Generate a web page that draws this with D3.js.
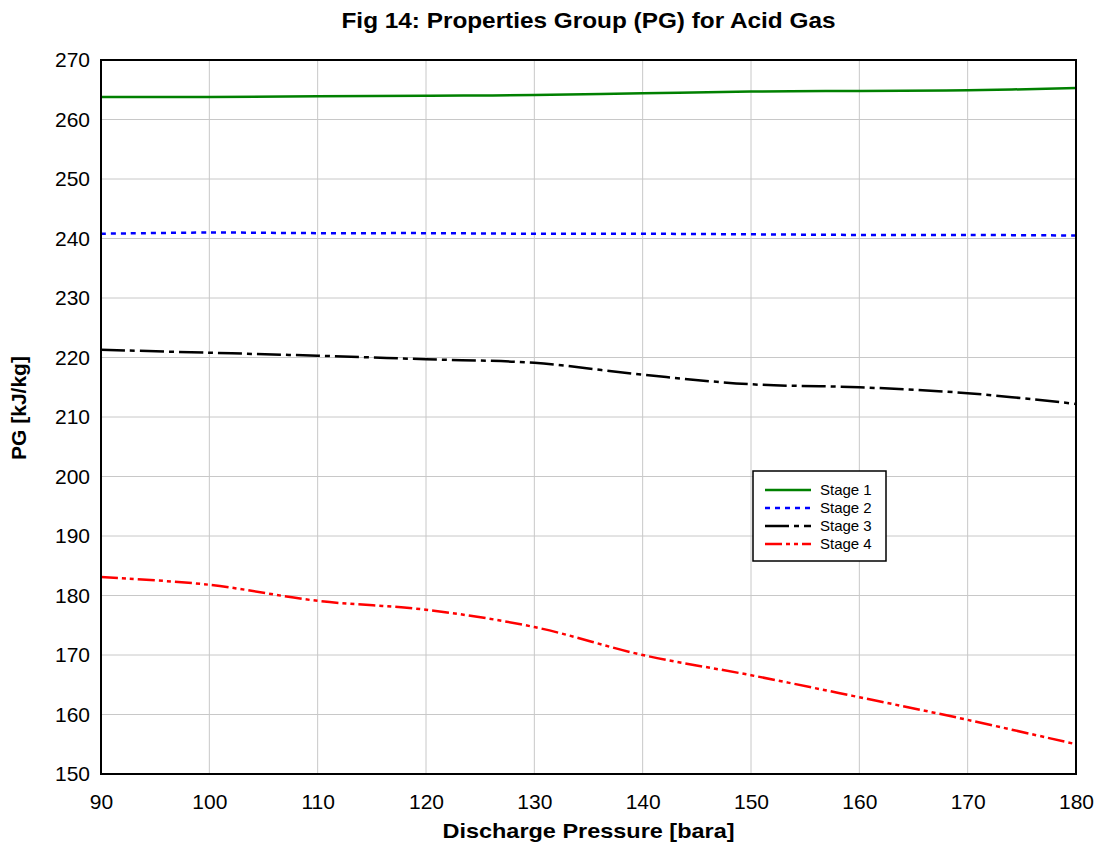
<!DOCTYPE html>
<html>
<head>
<meta charset="utf-8">
<script src="https://cdn.jsdelivr.net/npm/d3@7"></script>
<style>
  body { margin: 0; background: #fff; }
  text { font-family: "Liberation Sans", Arial, sans-serif; }
</style>
</head>
<body>
<div id="chart"></div>
<script>
// Chart data
const pressures = [90, 100, 110, 120, 130, 140, 150, 160, 170, 180]
const stage1 = [263.8, 263.8, 263.9, 264.0, 264.1, 264.4, 264.7, 264.8, 264.9, 265.3]
const stage2 = [240.8, 241.0, 240.9, 240.9, 240.8, 240.8, 240.7, 240.6, 240.6, 240.5]
const stage3 = [221.3, 220.8, 220.3, 219.7, 219.1, 217.1, 215.5, 215.0, 214.0, 212.2]
const stage4 = [183.1, 181.8, 179.1, 177.6, 174.7, 170.0, 166.6, 162.9, 159.1, 155.0]
const seriesNames = ['Stage 1', 'Stage 2', 'Stage 3', 'Stage 4']
const xTicks = [90, 100, 110, 120, 130, 140, 150, 160, 170, 180]
const yTicks = [150, 160, 170, 180, 190, 200, 210, 220, 230, 240, 250, 260, 270]

const width = 1103
const height = 846
const margin = { top: 60, right: 27, bottom: 72, left: 101 }

const series = [
  { name: seriesNames[0], values: stage1, color: '#008000', dash: null },
  { name: seriesNames[1], values: stage2, color: '#0000ff', dash: '5,5' },
  { name: seriesNames[2], values: stage3, color: '#000000', dash: '24,5,5,5' },
  { name: seriesNames[3], values: stage4, color: '#ff0000', dash: '17,4,4,4,4,4' }
]

const svg = d3.select('#chart').append('svg')
  .attr('width', width)
  .attr('height', height)

const x = d3.scaleLinear().domain([90, 180]).range([margin.left, width - margin.right])
const y = d3.scaleLinear().domain([150, 270]).range([height - margin.bottom, margin.top])

// gridlines
svg.append('g')
  .selectAll('line')
  .data(xTicks)
  .join('line')
  .attr('x1', d => x(d)).attr('x2', d => x(d))
  .attr('y1', y(150)).attr('y2', y(270))
  .attr('stroke', '#c8c8c8').attr('stroke-width', 1)

svg.append('g')
  .selectAll('line')
  .data(yTicks)
  .join('line')
  .attr('x1', x(90)).attr('x2', x(180))
  .attr('y1', d => y(d)).attr('y2', d => y(d))
  .attr('stroke', '#c8c8c8').attr('stroke-width', 1)

// axes (tick labels only)
const xAxis = svg.append('g')
  .attr('transform', `translate(0,${y(150)})`)
  .call(d3.axisBottom(x).tickValues(xTicks).tickSize(0).tickPadding(20))
xAxis.select('.domain').remove()
xAxis.selectAll('text').attr('font-size', 21).attr('fill', '#000')
  .style('font-family', '"Liberation Sans", Arial, sans-serif')

const yAxis = svg.append('g')
  .attr('transform', `translate(${x(90)},0)`)
  .call(d3.axisLeft(y).tickValues(yTicks).tickSize(0).tickPadding(11))
yAxis.select('.domain').remove()
yAxis.selectAll('text').attr('font-size', 21).attr('fill', '#000')
  .style('font-family', '"Liberation Sans", Arial, sans-serif')

// lines
const line = d3.line()
  .x((d, i) => x(pressures[i]))
  .y(d => y(d))
  .curve(d3.curveCatmullRom.alpha(0.5))

svg.append('g')
  .selectAll('path')
  .data(series)
  .join('path')
  .attr('d', d => line(d.values))
  .attr('fill', 'none')
  .attr('stroke', d => d.color)
  .attr('stroke-width', 2.5)
  .attr('stroke-dasharray', d => d.dash)

// plot frame
svg.append('rect')
  .attr('x', x(90)).attr('y', y(270))
  .attr('width', x(180) - x(90)).attr('height', y(150) - y(270))
  .attr('fill', 'none').attr('stroke', '#000').attr('stroke-width', 2)

// title and axis labels
const midX = (x(90) + x(180)) / 2
svg.append('text')
  .attr('x', midX).attr('y', 28)
  .attr('text-anchor', 'middle')
  .attr('font-size', 22).attr('font-weight', 'bold')
  .attr('textLength', 494).attr('lengthAdjust', 'spacingAndGlyphs')
  .text('Fig 14: Properties Group (PG) for Acid Gas')

svg.append('text')
  .attr('x', midX).attr('y', 838)
  .attr('text-anchor', 'middle')
  .attr('font-size', 21).attr('font-weight', 'bold')
  .attr('textLength', 292).attr('lengthAdjust', 'spacingAndGlyphs')
  .text('Discharge Pressure [bara]')

svg.append('text')
  .attr('transform', `translate(26,${(y(150) + y(270)) / 2 - 9}) rotate(-90)`)
  .attr('text-anchor', 'middle')
  .attr('font-size', 21).attr('font-weight', 'bold')
  .text('PG [kJ/kg]')

// legend
const legend = svg.append('g').attr('transform', 'translate(753,471)')
legend.append('rect')
  .attr('width', 133).attr('height', 90)
  .attr('fill', '#fff').attr('stroke', '#000').attr('stroke-width', 1.5)

const item = legend.selectAll('g.item')
  .data(series)
  .join('g')
  .attr('transform', (d, i) => `translate(0,${19 + i * 18})`)
item.append('line')
  .attr('x1', 12).attr('x2', 58)
  .attr('stroke', d => d.color)
  .attr('stroke-width', 2.5)
  .attr('stroke-dasharray', d => d.dash)
item.append('text')
  .attr('x', 67).attr('y', 5)
  .attr('font-size', 15)
  .text(d => d.name)
</script>
</body>
</html>
